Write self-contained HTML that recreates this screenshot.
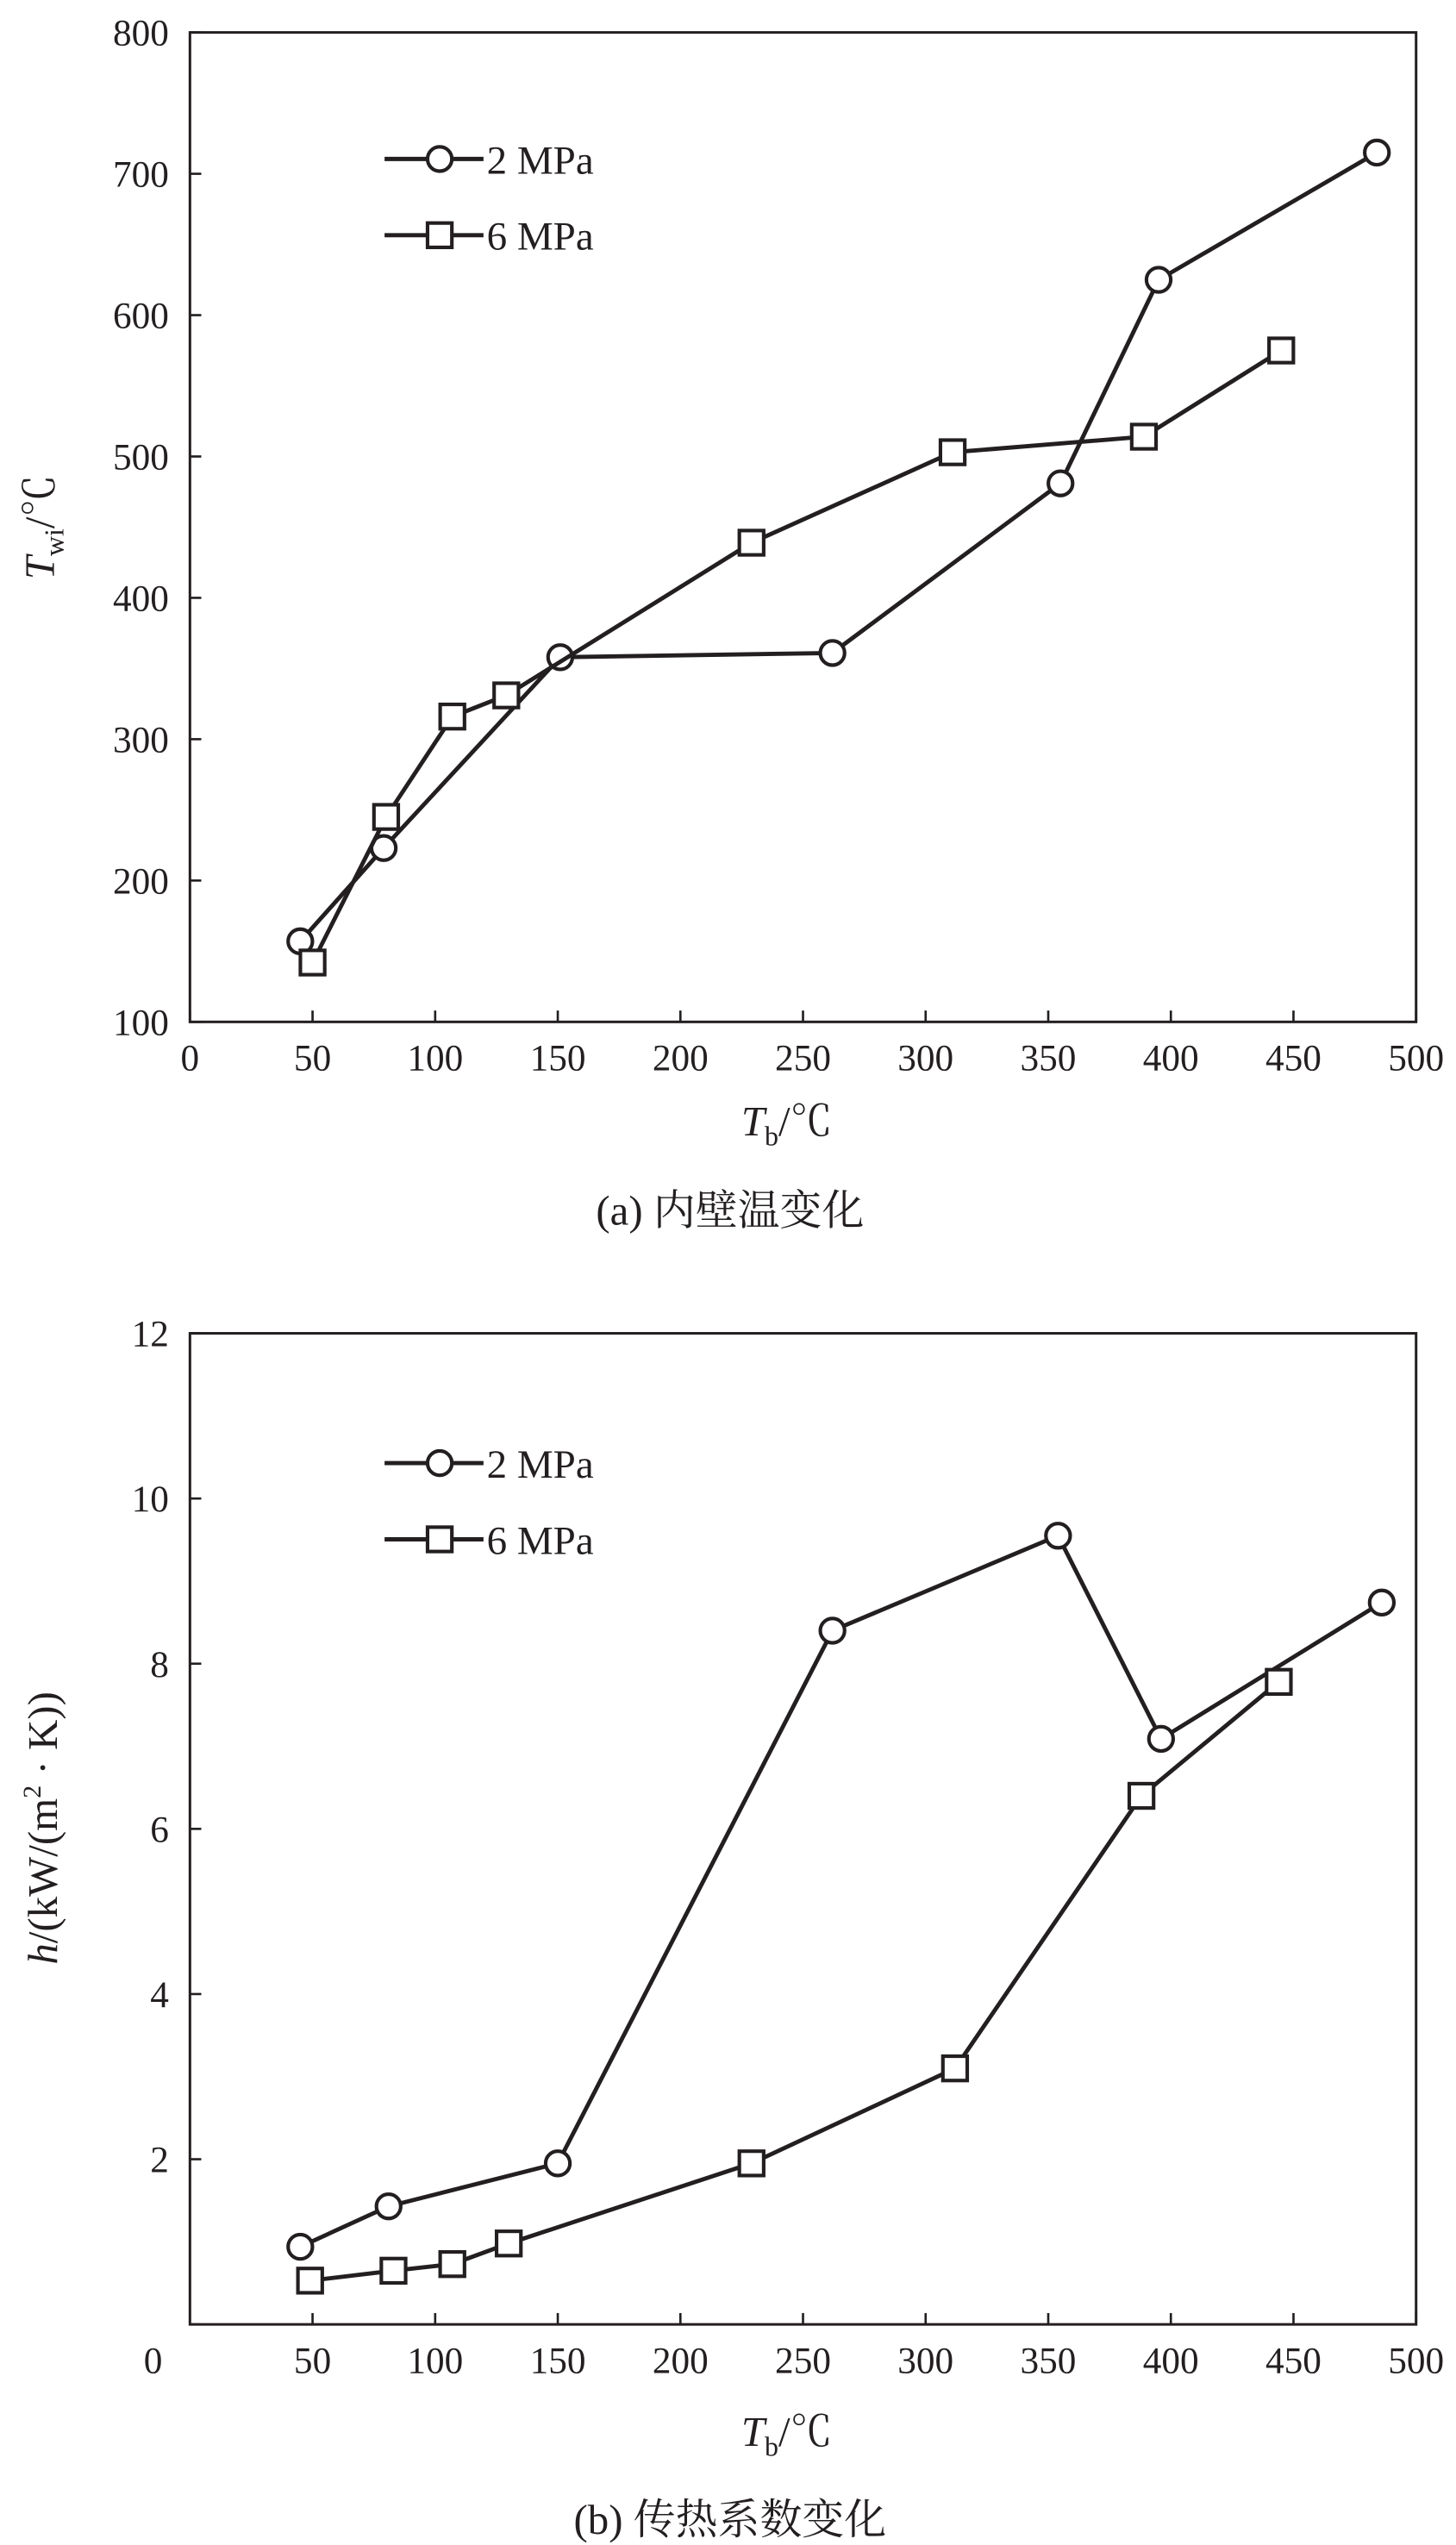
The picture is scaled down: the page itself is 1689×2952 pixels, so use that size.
<!DOCTYPE html>
<html><head><meta charset="utf-8">
<style>
html,body{margin:0;padding:0;background:#fff;}
svg{display:block;}
text{font-family:"Liberation Serif","Noto Serif CJK SC","Noto Sans CJK SC",serif;fill:#231f20;}
</style></head>
<body>
<svg id="fig" width="1689" height="2952" viewBox="0 0 897.5 1569" xmlns="http://www.w3.org/2000/svg">
</svg>
<script>
// ---- Data (a) inner wall temperature ----
const aX2 = [45, 79, 151, 262, 355, 395, 484];
const aY2 = [157, 223, 358, 361, 481, 625, 715];
const aX6 = [50, 80, 107, 129, 229, 311, 389, 445];
const aY6 = [142, 245, 316, 331, 439, 503, 514, 575];
const aXTicks = [0, 50, 100, 150, 200, 250, 300, 350, 400, 450, 500];
const aYTicks = [100, 200, 300, 400, 500, 600, 700, 800];
// ---- Data (b) heat transfer coefficient ----
const bX2 = [45, 81, 150, 262, 354, 396, 486];
const bY2 = [0.94, 1.43, 1.95, 8.4, 9.55, 7.09, 8.74];
const bX6 = [49, 83, 107, 130, 229, 312, 388, 444];
const bY6 = [0.53, 0.65, 0.73, 0.98, 1.95, 3.1, 6.4, 7.78];
const bXTicks = [50, 100, 150, 200, 250, 300, 350, 400, 450, 500];
const bYTicks = [0, 2, 4, 6, 8, 10, 12];

const NS = "http://www.w3.org/2000/svg";
const svg = document.getElementById('fig');
function mk(tag, attrs, parent, txt){
  const e = document.createElementNS(NS, tag);
  for (const k in attrs) e.setAttribute(k, attrs[k]);
  if (txt !== undefined) e.textContent = txt;
  (parent || svg).appendChild(e);
  return e;
}

function chart(cfg){
  const g = mk('g', {});
  
  
  const L = 117, R = 873, T = cfg.top, B = cfg.bottom;
  const sx = v => L + (v - cfg.xmin) / (cfg.xmax - cfg.xmin) * (R - L);
  const sy = v => B - (v - cfg.ymin) / (cfg.ymax - cfg.ymin) * (B - T);
  const frame = mk('rect', {x:L, y:T, width:R-L, height:B-T, fill:'none', stroke:'#231f20', 'stroke-width':1.6}, g);
  
  
  cfg.xt.forEach(v => {
    const x = sx(v);
    mk('line', {x1:x, y1:B, x2:x, y2:B-7, stroke:'#231f20', 'stroke-width':1.4}, g);
    const t = mk('text', {x:x, y:B+30, 'text-anchor':'middle', 'font-size':23}, g, v);
    
    
  });
  cfg.yt.forEach(v => {
    const y = sy(v);
    mk('line', {x1:L, y1:y, x2:L+7, y2:y, stroke:'#231f20', 'stroke-width':1.4}, g);
    let x = 104, yy = y + 8;
    if (cfg.zeroBelow && v === 0) { x = 100; yy = B + 30; }
    const t = mk('text', {x:x, y:yy, 'text-anchor':'end', 'font-size':23}, g, v);
    
    
  });
  function series(xs, ys, kind, name){
    const sg = mk('g', {}, g);
    
    
    const pts = xs.map((x,i) => sx(x) + ',' + sy(ys[i])).join(' ');
    mk('polyline', {points:pts, fill:'none', stroke:'#231f20', 'stroke-width':2.6}, sg);
    xs.forEach((x,i) => {
      const px = sx(x), py = sy(ys[i]);
      let m;
      if (kind === 'c') m = mk('circle', {cx:px, cy:py, r:7.5, fill:'#fff', stroke:'#231f20', 'stroke-width':2.2}, sg);
      else m = mk('rect', {x:px-7.5, y:py-7.5, width:15, height:15, fill:'#fff', stroke:'#231f20', 'stroke-width':2.2}, sg);
      
      
    });
  }
  series(cfg.x2, cfg.y2, 'c', 'series-2mpa');
  series(cfg.x6, cfg.y6, 's', 'series-6mpa');
  // legend
  const lg = mk('g', {}, g);
  
  
  const ly1 = cfg.legY, ly2 = cfg.legY + 47;
  mk('line', {x1:237, y1:ly1, x2:298, y2:ly1, stroke:'#231f20', 'stroke-width':2.6}, lg);
  mk('circle', {cx:271, cy:ly1, r:7.5, fill:'#fff', stroke:'#231f20', 'stroke-width':2.2}, lg);
  const e1 = mk('text', {x:300, y:ly1+9, 'font-size':25}, lg, '2 MPa');
  
  
  mk('line', {x1:237, y1:ly2, x2:298, y2:ly2, stroke:'#231f20', 'stroke-width':2.6}, lg);
  mk('rect', {x:263.5, y:ly2-7.5, width:15, height:15, fill:'#fff', stroke:'#231f20', 'stroke-width':2.2}, lg);
  const e2 = mk('text', {x:300, y:ly2+9, 'font-size':25}, lg, '6 MPa');
  
  
  return g;
}

chart({name:'chart-a-inner-wall-temp', top:20, bottom:630, xmin:0, xmax:500, ymin:100, ymax:800,
  xt:aXTicks, yt:aYTicks, x2:aX2, y2:aY2, x6:aX6, y6:aY6, legY:98});
chart({name:'chart-b-heat-transfer-coef', top:822, bottom:1433, xmin:0, xmax:500, ymin:0, ymax:12,
  xt:bXTicks, yt:bYTicks, x2:bX2, y2:bY2, x6:bX6, y6:bY6, legY:902, zeroBelow:true});
</script>
<svg width="0" height="0" style="position:absolute"></svg>
<script>
(function(){
  const NS = "http://www.w3.org/2000/svg";
  const svg = document.getElementById('fig');
  function add(html){
    const g = document.createElementNS(NS,'g');
    g.innerHTML = html;
    svg.appendChild(g);
  }
  add('<text transform="translate(33,325) rotate(-90)" text-anchor="middle" font-size="26"><tspan font-style="italic">T</tspan><tspan font-size="17" dy="6">wi</tspan><tspan dy="-6">/℃</tspan></text>');
  add('<text x="485" y="700" text-anchor="middle" font-size="26"><tspan font-style="italic">T</tspan><tspan font-size="17" dy="6">b</tspan><tspan dy="-6">/℃</tspan></text>');
  add('<text x="450" y="755" text-anchor="middle" font-size="26">(a) 内壁温变化</text>');
  add('<text transform="translate(35,1127) rotate(-90)" text-anchor="middle" font-size="26"><tspan font-style="italic">h</tspan>/(kW/(m<tspan font-size="16" dy="-10">2</tspan><tspan dy="10"> · K))</tspan></text>');
  add('<text x="485" y="1508" text-anchor="middle" font-size="26"><tspan font-style="italic">T</tspan><tspan font-size="17" dy="6">b</tspan><tspan dy="-6">/℃</tspan></text>');
  add('<text x="450" y="1562" text-anchor="middle" font-size="26">(b) 传热系数变化</text>');
})();
</script>
</body></html>
